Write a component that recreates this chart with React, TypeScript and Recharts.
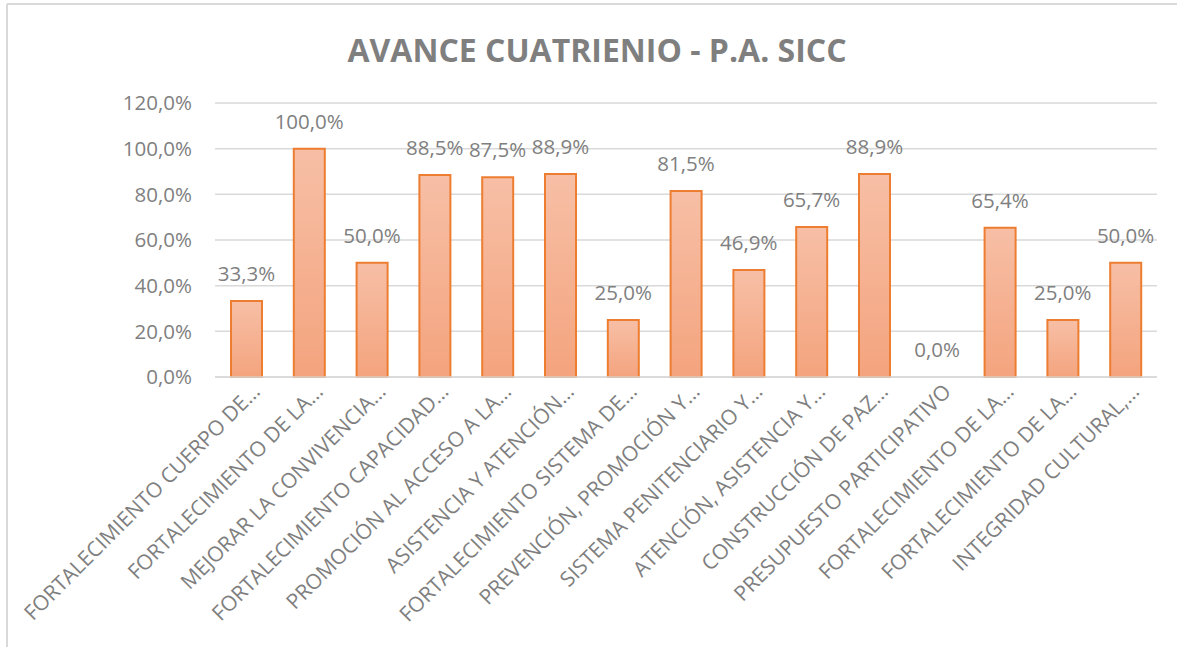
import { FC } from 'react'
import { ComposedChart, Bar, Line, XAxis, YAxis, CartesianGrid, LabelList } from 'recharts'

const categories = [
  'FORTALECIMIENTO CUERPO DE…',
  'FORTALECIMIENTO DE LA…',
  'MEJORAR LA CONVIVENCIA…',
  'FORTALECIMIENTO CAPACIDAD…',
  'PROMOCIÓN AL ACCESO A LA…',
  'ASISTENCIA Y ATENCIÓN…',
  'FORTALECIMIENTO SISTEMA DE…',
  'PREVENCIÓN, PROMOCIÓN Y…',
  'SISTEMA PENITENCIARIO Y…',
  'ATENCIÓN, ASISTENCIA Y…',
  'CONSTRUCCIÓN DE PAZ…',
  'PRESUPUESTO PARTICIPATIVO',
  'FORTALECIMIENTO DE LA…',
  'FORTALECIMIENTO DE LA…',
  'INTEGRIDAD CULTURAL,…',
]

const avance = [33.3, 100, 50, 88.5, 87.5, 88.9, 25, 81.5, 46.9, 65.7, 88.9, 0, 65.4, 25, 50]

const yTicks = [0, 20, 40, 60, 80, 100, 120]

const TITLE = 'AVANCE CUATRIENIO - P.A. SICC'
const FONT = '"Open Sans", "Noto Sans", sans-serif'
const GREY = '#7f7f7f'

const data = categories.map((name, i) => ({ name, value: avance[i] }))

// 33.3 -> "33,3%"
const formatPct = (raw: unknown): string => {
  const v = typeof raw === 'number' ? raw : Number(raw)
  if (!Number.isFinite(v)) return ''
  return `${v.toFixed(1).replace('.', ',')}%`
}

const RotatedTick: FC<any> = ({ x, y, payload }) => (
  <g transform={`translate(${x + 15},${y + 16}) rotate(-45)`}>
    <text x={0} y={0} textAnchor="end" fill={GREY} fontSize={21} fontFamily={FONT}>
      {payload.value}
    </text>
  </g>
)

// labels hang off an invisible line, so the 0 bar gets its "0,0%" too
const TopLabel: FC<any> = ({ x, y, value }) => (
  <text x={Number(x)} y={Number(y) - 20} textAnchor="middle" fill={GREY} fontSize={20.5} fontFamily={FONT}>
    {formatPct(value)}
  </text>
)

export default function App() {
  return (
    <div style={{ position: 'fixed', left: 0, top: 0, width: 1177, height: 647, background: '#fff' }}>
      <svg width={1177} height={647} style={{ position: 'absolute', left: 0, top: 0 }}>
        <line x1={7} y1={4} x2={7} y2={647} stroke="#d9d9d9" strokeWidth={2} />
        <line x1={7} y1={4} x2={1177} y2={4} stroke="#d9d9d9" strokeWidth={2} />
        <text x={597} y={62} textAnchor="middle" fill={GREY} fontSize={32} fontWeight="bold" fontFamily={FONT}>
          {TITLE}
        </text>
      </svg>
      <div style={{ position: 'absolute', left: 0, top: 0 }}>
        <ComposedChart
          width={1177}
          height={647}
          data={data}
          margin={{ top: 103, right: 20, bottom: 0, left: 0 }}
        >
          <defs>
            <linearGradient id="barFill" x1="0" y1="0" x2="0" y2="1">
              <stop offset="0%" stopColor="#f7bfa6" />
              <stop offset="100%" stopColor="#f4a47e" />
            </linearGradient>
          </defs>
          <CartesianGrid vertical={false} stroke="#d9d9d9" strokeWidth={1.5} />
          <XAxis
            dataKey="name"
            interval={0}
            height={270}
            tickLine={false}
            tickSize={0}
            tickMargin={0}
            axisLine={{ stroke: '#d9d9d9', strokeWidth: 1.5 }}
            tick={<RotatedTick />}
          />
          <YAxis
            width={215}
            domain={[0, 120]}
            ticks={yTicks}
            tickFormatter={value => formatPct(value)}
            axisLine={false}
            tickLine={false}
            tickMargin={17}
            tick={{ fill: GREY, fontSize: 20.5, fontFamily: FONT }}
          />
          <Bar
            dataKey="value"
            fill="url(#barFill)"
            stroke="#ed7d31"
            strokeWidth={2}
            barSize={31}
            isAnimationActive={false}
          />
          <Line
            dataKey="value"
            stroke="none"
            dot={false}
            activeDot={false}
            legendType="none"
            isAnimationActive={false}
          >
            <LabelList dataKey="value" content={<TopLabel />} />
          </Line>
        </ComposedChart>
      </div>
    </div>
  )
}
